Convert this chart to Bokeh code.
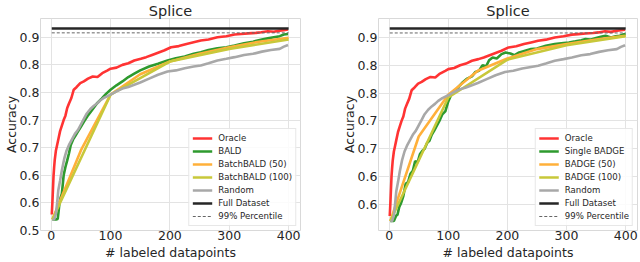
from bokeh.plotting import figure
from bokeh.layouts import row
from bokeh.models import Range1d, FixedTicker, Legend, LegendItem
from bokeh.embed import file_html
from bokeh.resources import INLINE

# ---------------- data ----------------
x_ticks = [0, 100, 200, 300, 400]
y_ticks = [0.5, 0.55, 0.6, 0.65, 0.7, 0.75, 0.8, 0.85]
y_tick_labels = ["0.5", "0.6", "0.6", "0.7", "0.7", "0.8", "0.8", "0.9"]

full_x = [1, 400]
full_dataset = [0.866, 0.866]
percentile_99 = [0.858, 0.858]

oracle_x = [1, 2, 3, 4, 5, 6, 8, 10, 12, 15, 18, 21, 24, 27, 30, 34, 38, 43, 49, 55, 62, 70, 78,
            86, 95, 100, 110, 120, 130, 140, 151, 160, 170, 180, 190, 202, 215, 228, 240, 252, 265,
            280, 295, 309, 320, 332, 345, 354, 365, 375, 385, 392, 399]
oracle_y = [0.529, 0.55, 0.575, 0.60, 0.615, 0.628, 0.645, 0.655, 0.665, 0.68, 0.69, 0.70, 0.708,
            0.722, 0.730, 0.740, 0.755, 0.760, 0.767, 0.770, 0.775, 0.779, 0.778, 0.785, 0.790,
            0.793, 0.795, 0.800, 0.803, 0.808, 0.811, 0.814, 0.818, 0.822, 0.826, 0.832, 0.834,
            0.838, 0.841, 0.844, 0.846, 0.850, 0.852, 0.855, 0.856, 0.857, 0.858, 0.859, 0.861,
            0.860, 0.862, 0.863, 0.864]

random_x = [2, 5, 8, 10, 12, 15, 18, 22, 26, 30, 35, 40, 45, 50, 55, 60, 66, 72, 78, 83, 90, 100,
            110, 120, 130, 140, 150, 165, 180, 196, 210, 225, 240, 252, 265, 280, 295, 309, 325,
            340, 355, 370, 385, 392, 399]
random_y = [0.52, 0.52, 0.53, 0.55, 0.573, 0.59, 0.609, 0.63, 0.645, 0.655, 0.665, 0.675, 0.682,
            0.692, 0.702, 0.712, 0.72, 0.726, 0.731, 0.736, 0.741, 0.746, 0.752, 0.757, 0.760,
            0.764, 0.768, 0.775, 0.782, 0.788, 0.790, 0.794, 0.797, 0.799, 0.803, 0.808, 0.811,
            0.814, 0.818, 0.820, 0.824, 0.827, 0.829, 0.833, 0.836]

bald_x = [2, 5, 8, 11, 12, 14, 16, 18, 21, 24, 27, 30, 33, 37, 41, 45, 50, 55, 61, 68, 77, 85, 92,
          100, 110, 120, 130, 140, 150, 165, 180, 196, 210, 225, 240, 252, 265, 280, 295, 309,
          325, 340, 355, 365, 375, 385, 392, 399]
bald_y = [0.52, 0.52, 0.52, 0.521, 0.53, 0.55, 0.56, 0.567, 0.600, 0.615, 0.627, 0.64, 0.655,
          0.665, 0.672, 0.679, 0.688, 0.697, 0.707, 0.717, 0.730, 0.739, 0.747, 0.755, 0.763,
          0.770, 0.778, 0.784, 0.790, 0.797, 0.802, 0.808, 0.812, 0.815, 0.820, 0.823, 0.827,
          0.830, 0.832, 0.835, 0.839, 0.842, 0.846, 0.848, 0.850, 0.852, 0.855, 0.856]

batchbald50_x = [2, 50, 100, 150, 200, 250, 300, 350, 400]
batchbald50_y = [0.52, 0.645, 0.746, 0.783, 0.806, 0.820, 0.832, 0.842, 0.849]

batchbald100_x = [2, 100, 200, 300, 400]
batchbald100_y = [0.52, 0.746, 0.806, 0.829, 0.846]

badge_x = [2, 5, 8, 10, 12, 14, 17, 20, 24, 28, 32, 36, 40, 44, 48, 52, 56, 60, 64, 68, 72, 76, 80,
           85, 90, 95, 100, 105, 110, 118, 125, 132, 140, 146, 152, 158, 164, 169, 175, 182, 190,
           197, 205, 212, 220, 230, 240, 250, 265, 280, 295, 304, 315, 325, 332, 340, 350, 358,
           366, 375, 383, 390, 395, 400]
badge_y = [0.52, 0.52, 0.52, 0.525, 0.53, 0.531, 0.545, 0.552, 0.565, 0.587, 0.59, 0.605, 0.61,
           0.628, 0.625, 0.64, 0.646, 0.65, 0.66, 0.664, 0.675, 0.682, 0.69, 0.70, 0.712, 0.717,
           0.735, 0.747, 0.752, 0.762, 0.770, 0.776, 0.780, 0.788, 0.79, 0.80, 0.798, 0.809,
           0.814, 0.812, 0.820, 0.823, 0.821, 0.818, 0.823, 0.826, 0.829, 0.830, 0.835, 0.838,
           0.840, 0.841, 0.843, 0.845, 0.847, 0.846, 0.849, 0.851, 0.853, 0.850, 0.852, 0.853,
           0.855, 0.856]

badge50_x = [2, 50, 100, 150, 200, 250, 300, 350, 400]
badge50_y = [0.52, 0.672, 0.747, 0.790, 0.812, 0.829, 0.838, 0.846, 0.853]

badge100_x = [2, 100, 200, 300, 400]
badge100_y = [0.52, 0.742, 0.810, 0.836, 0.852]

# ---------------- style ----------------
C_RED = "#ff3333"
C_GREEN = "#2e9a2e"
C_ORANGE = "#ffb03a"
C_YELLOW = "#c8c83a"
C_GRAY = "#a8a8a8"
C_BLACK = "#262626"
FONT = "DejaVu Sans"
LW = 2.6


def make_panel(width, min_right, y_start, series):
    p = figure(width=width, height=262, output_backend="svg", toolbar_location=None,
               x_range=Range1d(-18, 420), y_range=Range1d(y_start, 0.884),
               min_border_left=0, min_border_right=min_right,
               min_border_top=0, min_border_bottom=0)
    p.title.text = "Splice"
    p.title.align = "center"
    p.title.text_font = FONT
    p.title.text_font_size = "14.5px"
    p.title.text_font_style = "normal"
    p.title.text_color = "#262626"
    p.title.standoff = 0
    p.title.offset = 0

    p.xaxis.ticker = FixedTicker(ticks=x_ticks)
    p.yaxis.ticker = FixedTicker(ticks=y_ticks)
    p.yaxis.major_label_overrides = {t: l for t, l in zip(y_ticks, y_tick_labels)}
    for ax in (p.xaxis[0], p.yaxis[0]):
        ax.axis_line_color = None
        ax.major_tick_line_color = None
        ax.minor_tick_line_color = None
        ax.major_tick_out = 0
        ax.major_tick_in = 0
        ax.minor_tick_out = 0
        ax.major_label_text_font = FONT
        ax.major_label_text_font_size = "12.5px"
        ax.major_label_text_color = "#262626"
        ax.axis_label_text_font = FONT
        ax.axis_label_text_font_size = "12.5px"
        ax.axis_label_text_font_style = "normal"
        ax.axis_label_text_color = "#262626"
    p.xaxis.major_label_standoff = 0
    p.xaxis.axis_label_standoff = 2
    p.yaxis.major_label_standoff = 1
    p.yaxis.axis_label_standoff = -2
    p.xaxis.axis_label = "# labeled datapoints"
    p.yaxis.axis_label = "Accuracy"

    p.xgrid.grid_line_color = "#e3e3e3"
    p.ygrid.grid_line_color = "#e3e3e3"
    p.outline_line_color = "#d9d9d9"
    p.outline_line_width = 1

    items = []
    for name, xs, ys, color in series:
        r = p.line(xs, ys, line_color=color, line_width=LW)
        items.append((name, r))
    r_full = p.line(full_x, full_dataset, line_color=C_BLACK, line_width=LW)
    r_pct = p.line(full_x, percentile_99, line_color="#666666", line_width=1, line_dash="3 2")
    items.append(("Full Dataset", r_full))
    items.append(("99% Percentile", r_pct))

    legend = Legend(items=[LegendItem(label=n, renderers=[r]) for n, r in items],
                    location="bottom_right")
    legend.label_text_font = FONT
    legend.label_text_font_size = "8.6px"
    legend.label_text_color = "#262626"
    legend.glyph_width = 20
    legend.glyph_height = 12
    legend.label_height = 12
    legend.label_standoff = 6
    legend.spacing = 1
    legend.padding = 3
    legend.margin = 4
    legend.border_line_color = "#d0d0d0"
    legend.border_line_width = 1
    legend.background_fill_alpha = 0.85
    p.add_layout(legend)
    return p


left = make_panel(338, 38, 0.5, [
    ("Oracle", oracle_x, oracle_y, C_RED),
    ("BALD", bald_x, bald_y, C_GREEN),
    ("BatchBALD (50)", batchbald50_x, batchbald50_y, C_ORANGE),
    ("BatchBALD (100)", batchbald100_x, batchbald100_y, C_YELLOW),
    ("Random", random_x, random_y, C_GRAY),
])
right = make_panel(302, 3, 0.503, [
    ("Oracle", oracle_x, oracle_y, C_RED),
    ("Single BADGE", badge_x, badge_y, C_GREEN),
    ("BADGE (50)", badge50_x, badge50_y, C_ORANGE),
    ("BADGE (100)", badge100_x, badge100_y, C_YELLOW),
    ("Random", random_x, random_y, C_GRAY),
])

layout = row(left, right)
open("out.html", "w").write(file_html(layout, INLINE))
